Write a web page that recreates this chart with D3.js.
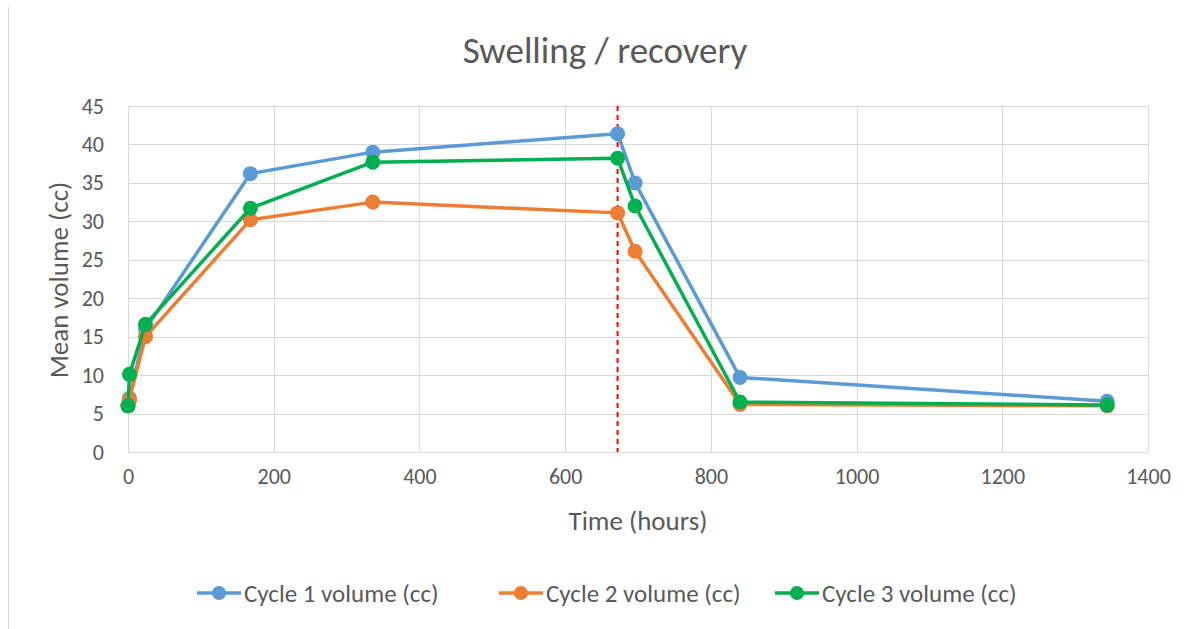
<!DOCTYPE html>
<html>
<head>
<meta charset="utf-8">
<script src="https://cdn.jsdelivr.net/npm/d3@7"></script>
<style>
  body { margin: 0; background: #fff; }
  text { font-family: Carlito, "Liberation Sans", "Open Sans", sans-serif; fill: #595959; }
</style>
</head>
<body>
<svg id="chart" width="1199" height="629"></svg>
<script>
var hours = [0, 2, 24, 168, 336, 672, 696, 840, 1344];
var cycle1 = [6.0, 7.0, 16.0, 36.2, 39.0, 41.4, 35.0, 9.7, 6.6];
var cycle2 = [6.0, 6.8, 15.0, 30.2, 32.5, 31.1, 26.1, 6.2, 6.0];
var cycle3 = [6.0, 10.1, 16.6, 31.7, 37.7, 38.2, 32.0, 6.5, 6.1];
var seriesNames = ["Cycle 1 volume (cc)", "Cycle 2 volume (cc)", "Cycle 3 volume (cc)"];
var seriesColors = ["#5b9bd5", "#ed7d31", "#00b050"];
var xTicks = [0, 200, 400, 600, 800, 1000, 1200, 1400];
var yTicks = [0, 5, 10, 15, 20, 25, 30, 35, 40, 45];
var markerHour = 672;

var svg = d3.select("#chart");
var padding = { top: 106, left: 128, right: 51, bottom: 177 };
var width = +svg.attr("width");
var height = +svg.attr("height");
var canvasWidth = width - padding.left - padding.right;
var canvasHeight = height - padding.top - padding.bottom;

// left border of the chart box
svg.append("line")
  .attr("x1", 8.5).attr("x2", 8.5)
  .attr("y1", 7).attr("y2", height)
  .style("stroke", "#d9d9d9").style("stroke-width", 1);

var x = d3.scaleLinear().domain([0, 1400]).range([0, canvasWidth]);
var y = d3.scaleLinear().domain([0, 45]).range([canvasHeight, 0]);

var canvas = svg.append("g")
  .attr("transform", "translate(" + padding.left + "," + padding.top + ")");

// gridlines
canvas.selectAll(".hgrid").data(yTicks).enter().append("line")
  .attr("x1", 0).attr("x2", canvasWidth)
  .attr("y1", d => Math.round(y(d)) + 0.5).attr("y2", d => Math.round(y(d)) + 0.5)
  .style("stroke", "#d9d9d9").style("stroke-width", 1);
canvas.selectAll(".vgrid").data(xTicks).enter().append("line")
  .attr("y1", 0).attr("y2", canvasHeight)
  .attr("x1", d => Math.round(x(d)) + 0.5).attr("x2", d => Math.round(x(d)) + 0.5)
  .style("stroke", "#d9d9d9").style("stroke-width", 1);

// axes (labels only)
var xAxis = d3.axisBottom(x).tickValues(xTicks).tickFormat(d3.format("d")).tickSize(0).tickPadding(16);
var yAxis = d3.axisLeft(y).tickValues(yTicks).tickFormat(d3.format("d")).tickSize(0).tickPadding(24);
var gX = canvas.append("g").attr("transform", "translate(0," + canvasHeight + ")").call(xAxis);
var gY = canvas.append("g").call(yAxis);
[gX, gY].forEach(function (g) {
  g.select(".domain").remove();
  g.selectAll("text").style("font-size", "22px").style("fill", "#595959")
    .style("font-family", "Carlito, 'Liberation Sans', sans-serif");
});

// red dashed marker line
canvas.append("line")
  .attr("x1", x(markerHour)).attr("x2", x(markerHour))
  .attr("y1", 0).attr("y2", canvasHeight)
  .style("stroke", "#ff0000").style("stroke-width", 2)
  .style("stroke-dasharray", "5,4");

var allSeries = [cycle1, cycle2, cycle3];
var line = d3.line()
  .x(function (d, i) { return x(hours[i]); })
  .y(function (d) { return y(d); });

allSeries.forEach(function (s, k) {
  var g = canvas.append("g");
  g.append("path")
    .attr("d", line(s))
    .style("fill", "none")
    .style("stroke", seriesColors[k])
    .style("stroke-width", 3.5)
    .style("stroke-linejoin", "round");
  g.selectAll("circle").data(s).enter().append("circle")
    .attr("cx", (d, i) => x(hours[i]))
    .attr("cy", d => y(d))
    .attr("r", 7.5)
    .style("fill", seriesColors[k]);
});

// titles
svg.append("text")
  .attr("x", 605).attr("y", 63)
  .attr("text-anchor", "middle")
  .style("font-size", "37px")
  .text("Swelling / recovery");

svg.append("text")
  .attr("x", 638).attr("y", 530)
  .attr("text-anchor", "middle")
  .style("font-size", "27px")
  .text("Time (hours)");

svg.append("g")
  .attr("transform", "translate(68," + 280 + ") rotate(270)")
  .append("text")
  .attr("text-anchor", "middle")
  .style("font-size", "27px")
  .text("Mean volume (cc)");

// legend
var legendX = [197, 499, 775];
var legend = svg.selectAll(".legend").data(seriesNames).enter().append("g")
  .attr("transform", (d, i) => "translate(" + legendX[i] + ",593)");
legend.append("line")
  .attr("x1", 0).attr("x2", 44)
  .style("stroke", (d, i) => seriesColors[i]).style("stroke-width", 3.5);
legend.append("circle")
  .attr("cx", 22).attr("r", 7)
  .style("fill", (d, i) => seriesColors[i]);
legend.append("text")
  .attr("x", 47).attr("dy", "0.35em")
  .style("font-size", "25px")
  .text(d => d);
</script>
</body>
</html>
